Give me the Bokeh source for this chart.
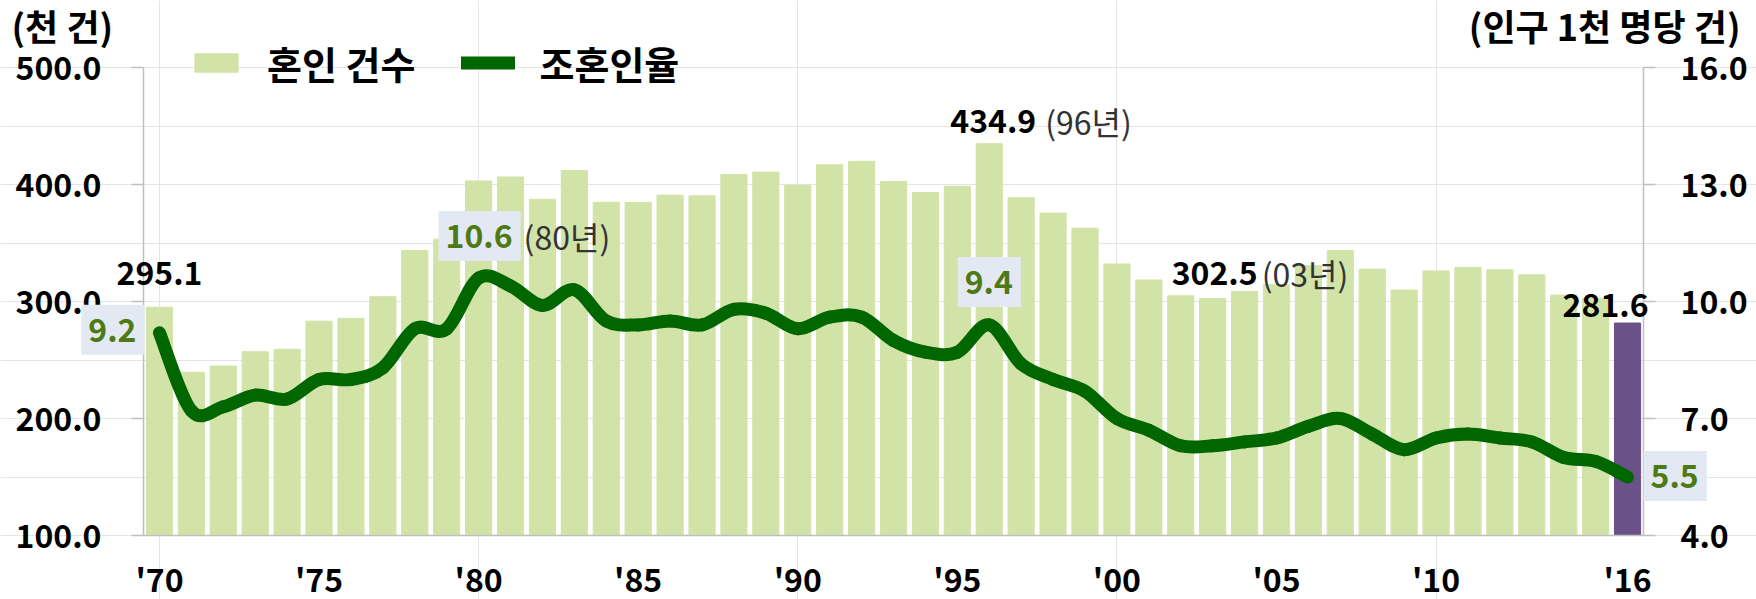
from bokeh.plotting import figure
from bokeh.models import (Range1d, LinearAxis, FixedTicker, Legend, LegendItem,
                          Label, NumeralTickFormatter)
from bokeh.embed import file_html
from bokeh.resources import INLINE

# ---------------- data ----------------
years = list(range(1970, 2017))
marriages = [295.1, 239.5, 244.8, 257.1, 259.1, 283.2, 285.6, 304.1, 343.6, 353.3,
             403.0, 406.4, 387.4, 412.0, 384.8, 384.7, 390.9, 390.3, 408.6, 410.6,
             399.3, 416.9, 419.8, 402.6, 393.1, 398.5, 434.9, 388.6, 375.6, 362.7,
             332.1, 318.4, 304.9, 302.5, 308.6, 314.3, 330.6, 343.6, 327.7, 309.8,
             326.1, 329.1, 327.1, 322.8, 305.5, 302.8, 281.6]
rates = [9.2, 7.2, 7.3, 7.6, 7.5, 8.0, 8.0, 8.3, 9.3, 9.3,
         10.6, 10.4, 9.9, 10.3, 9.5, 9.4, 9.5, 9.4, 9.8, 9.7,
         9.3, 9.6, 9.6, 9.0, 8.7, 8.7, 9.4, 8.4, 8.0, 7.7,
         7.0, 6.7, 6.3, 6.3, 6.4, 6.5, 6.8, 7.0, 6.6, 6.2,
         6.5, 6.6, 6.5, 6.4, 6.0, 5.9, 5.5]
tick_years = [1970, 1975, 1980, 1985, 1990, 1995, 2000, 2005, 2010, 2016]
tick_labels = ["'70", "'75", "'80", "'85", "'90", "'95", "'00", "'05", "'10", "'16"]
left_ticks = [100, 200, 300, 400, 500]
right_ticks = [4, 7, 10, 13, 16]
series_names = ["혼인 건수", "조혼인율"]
left_title = "(천 건)"
right_title = "(인구 1천 명당 건)"

# ---------------- layout / styles ----------------
W, H = 1756, 599
L, R, T, B = 143, 1643, 67, 535          # plot box in canvas pixels
X0, X1 = years[0] - 0.5, years[-1] + 0.5
Y0, Y1 = left_ticks[0], left_ticks[-1]
Q0, Q1 = right_ticks[0], right_ticks[-1]
ppx = (R - L) / (X1 - X0)
ppy = (B - T) / (Y1 - Y0)
ppq = (B - T) / (Q1 - Q0)

FONT = "Noto Sans CJK KR"
BAR = "#D2E3A8"
LAST = "#6A5187"
LINE = "#006600"
AXIS = "#BFBFBF"
GREEN_TXT = "#4E7A16"
BOX = "#E3E9F3"
TICK_FS = "32px"
NOTE_FS = "32px"
SUFFIX_FS = "32px"
TITLE_FS = "36px"
LEGEND_FS = "38px"
BOX_PAD = dict(left=7, right=8, top=13, bottom=13)

p = figure(width=W, height=H,
           x_range=Range1d(X0 - L / ppx, X1 + (W - R) / ppx),
           y_range=Range1d(Y0 - (H - B) / ppy, Y1 + T / ppy),
           output_backend="svg", toolbar_location=None,
           x_axis_location=None, y_axis_location=None,
           min_border=0)
p.extra_y_ranges = {"rate": Range1d(Q0 - (H - B) / ppq, Q1 + T / ppq)}
p.outline_line_color = None
p.background_fill_color = "white"
p.border_fill_color = "white"

colors = [BAR] * (len(years) - 1) + [LAST]
bars = p.vbar(x=years, top=marriages, bottom=Y0, width=0.82, color=colors)

# smooth (Excel-like) curve through the data points, drawn as bezier segments
n = len(years)
x0s, y0s, x1s, y1s, cx0, cy0, cx1, cy1 = [], [], [], [], [], [], [], []
for k in range(n - 1):
    a = max(k - 1, 0)
    d = min(k + 2, n - 1)
    x0s.append(years[k]); y0s.append(rates[k])
    x1s.append(years[k + 1]); y1s.append(rates[k + 1])
    cx0.append(years[k] + (years[k + 1] - years[a]) / 6)
    cy0.append(rates[k] + (rates[k + 1] - rates[a]) / 6)
    cx1.append(years[k + 1] - (years[d] - years[k]) / 6)
    cy1.append(rates[k + 1] - (rates[d] - rates[k]) / 6)
line = p.bezier(x0=x0s, y0=y0s, x1=x1s, y1=y1s, cx0=cx0, cy0=cy0, cx1=cx1, cy1=cy1,
                y_range_name="rate", line_width=13, line_color=LINE,
                line_cap="round")

def style_axis(ax):
    ax.axis_line_color = AXIS
    ax.axis_line_width = 1.5
    ax.major_tick_line_color = AXIS
    ax.major_tick_line_width = 1.5
    ax.minor_tick_line_color = None
    ax.major_tick_in = 0
    ax.major_label_text_font = FONT
    ax.major_label_text_font_style = "bold"
    ax.major_label_text_font_size = TICK_FS
    ax.major_label_text_color = "black"

ya = LinearAxis(ticker=FixedTicker(ticks=left_ticks),
                formatter=NumeralTickFormatter(format="0.0"),
                fixed_location=X0, bounds=(Y0, Y1))
style_axis(ya)
ya.major_tick_out = 12
ya.major_label_standoff = 30
p.add_layout(ya, "left")

ra = LinearAxis(y_range_name="rate", ticker=FixedTicker(ticks=right_ticks),
                formatter=NumeralTickFormatter(format="0.0"),
                fixed_location=X1, bounds=(Q0, Q1))
style_axis(ra)
ra.major_tick_out = 12
ra.major_label_standoff = 25
p.add_layout(ra, "right")

xa = LinearAxis(ticker=FixedTicker(ticks=tick_years), fixed_location=Y0,
                bounds=(X0, X1))
style_axis(xa)
xa.major_label_overrides = {y: t for y, t in zip(tick_years, tick_labels)}
xa.major_tick_out = 0
xa.major_tick_line_color = None
xa.major_label_standoff = 19
p.add_layout(xa, "below")

legend = Legend(items=[LegendItem(label=series_names[0], renderers=[bars]),
                       LegendItem(label=series_names[1], renderers=[line])],
                orientation="horizontal", location=(189, 509),
                glyph_width=54, glyph_height=23, label_standoff=24, spacing=46,
                padding=0, margin=0, border_line_color=None,
                background_fill_alpha=0, label_text_font=FONT,
                label_text_font_size=LEGEND_FS, label_text_font_style="bold",
                label_text_color="black")
p.add_layout(legend)

def txt(text, x, y, xo=0, yo=0, align="center", rng="default", color="black",
        style="bold", size=NOTE_FS, box=False):
    kw = dict(x=x, y=y, x_offset=xo, y_offset=yo, text=text, text_align=align,
              text_baseline="middle", text_font=FONT, text_font_size=size,
              text_font_style=style, text_color=color, y_range_name=rng)
    if box:
        kw.update(background_fill_color=BOX, padding=BOX_PAD)
    p.add_layout(Label(**kw))

# axis titles
txt(left_title, X0, Y1, xo=-132, yo=43, align="left", size=TITLE_FS)
txt(right_title, X1, Q1, xo=97, yo=43, align="right", rng="rate", size=TITLE_FS)

# bar value notes
i = years.index
txt(f"{marriages[i(1970)]:.1f}", 1970, marriages[i(1970)], yo=34)
txt(f"{marriages[i(1996)]:.1f}", 1996, marriages[i(1996)], xo=47, yo=23, align="right")
txt(f"({str(1996)[2:]}년)", 1996, marriages[i(1996)], xo=56, yo=23, align="left",
    style="normal", color="#333333", size=SUFFIX_FS)
txt(f"{marriages[i(2003)]:.1f}", 2003, marriages[i(2003)], xo=45, yo=26, align="right")
txt(f"({str(2003)[2:]}년)", 2003, marriages[i(2003)], xo=49, yo=26, align="left",
    style="normal", color="#333333", size=SUFFIX_FS)
txt(f"{marriages[i(2016)]:.1f}", 2016, marriages[i(2016)], xo=21, yo=18, align="right")

# rate notes
txt(f"{rates[i(1970)]:.1f}", 1970, rates[i(1970)], xo=-15, yo=3, align="right",
    rng="rate", color=GREEN_TXT, box=True)
txt(f"{rates[i(1980)]:.1f}", 1980, rates[i(1980)], xo=42, yo=42, align="right",
    rng="rate", color=GREEN_TXT, box=True)
txt(f"({str(1980)[2:]}년)", 1980, rates[i(1980)], xo=45, yo=42, align="left",
    rng="rate", style="normal", color="#333333", size=SUFFIX_FS)
txt(f"{rates[i(1996)]:.1f}", 1996, rates[i(1996)], yo=43, rng="rate",
    color=GREEN_TXT, box=True)
txt(f"{rates[i(2016)]:.1f}", 2016, rates[i(2016)], xo=16, yo=1, align="left",
    rng="rate", color=GREEN_TXT, box=True)

open("out.html", "w").write(file_html(p, INLINE))
